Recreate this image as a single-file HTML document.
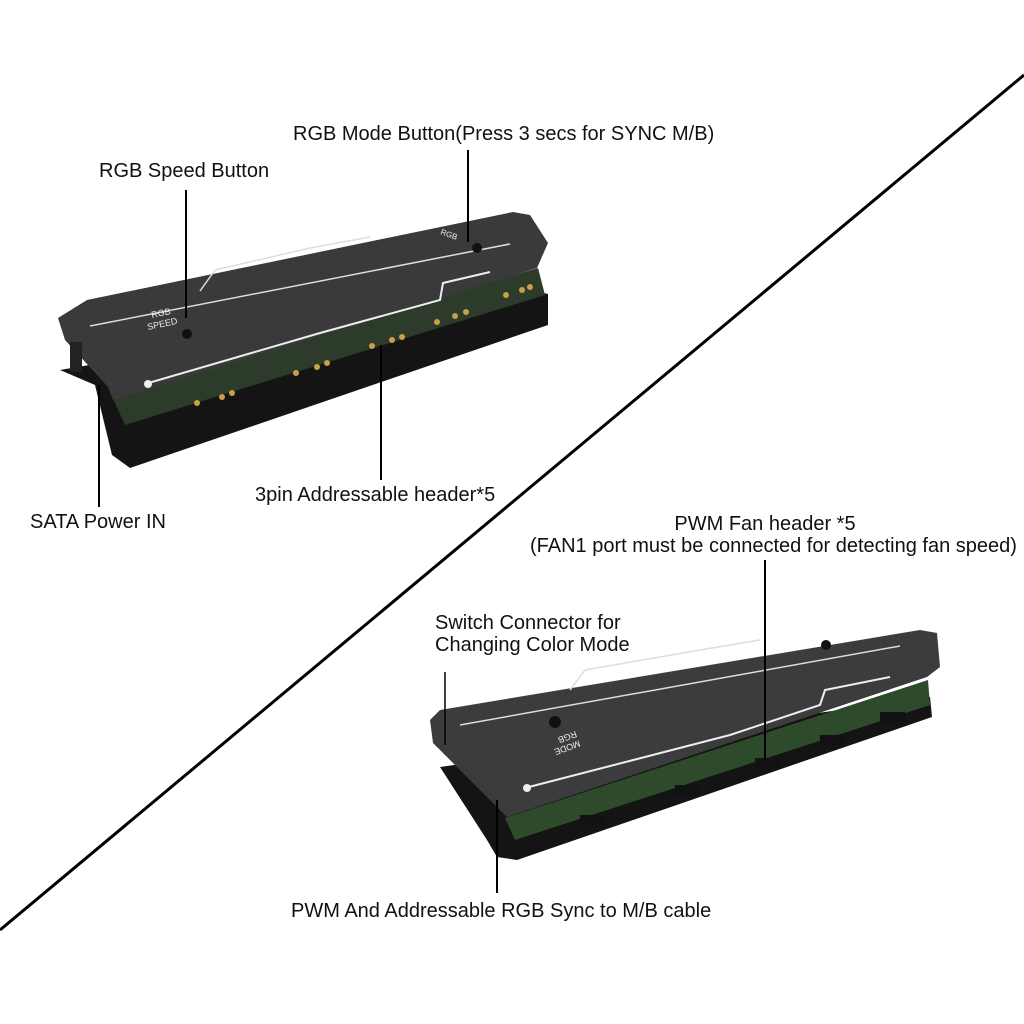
<!DOCTYPE html>
<html><head><style>
body{margin:0;background:#fff;}
svg{display:block}
text{font-family:"Liberation Sans",sans-serif;font-size:20px;fill:#111}
</style></head><body>
<svg width="1024" height="1024" viewBox="0 0 1024 1024">
<rect width="1024" height="1024" fill="#fff"/>
<line x1="1024" y1="75" x2="0" y2="930" stroke="#000" stroke-width="3"/>

<!-- top device -->
<polygon points="60,370 95,385 112,455 130,468 548,325 548,294 530,290" fill="#141414"/>
<polygon points="110,392 538,268 545,295 125,425" fill="#2d3b2a"/>
<g fill="#c9a04a">
<circle cx="197" cy="403" r="3"/><circle cx="222" cy="397" r="3"/><circle cx="232" cy="393" r="3"/>
<circle cx="296" cy="373" r="3"/><circle cx="317" cy="367" r="3"/><circle cx="327" cy="363" r="3"/>
<circle cx="372" cy="346" r="3"/><circle cx="392" cy="340" r="3"/><circle cx="402" cy="337" r="3"/>
<circle cx="437" cy="322" r="3"/><circle cx="455" cy="316" r="3"/><circle cx="466" cy="312" r="3"/>
<circle cx="506" cy="295" r="3"/><circle cx="522" cy="290" r="3"/><circle cx="530" cy="287" r="3"/>
</g>
<polygon points="58,318 87,300 513,212 530,215 548,243 537,268 113,400 108,387 65,340" fill="#3a3a3c"/>
<rect x="70" y="342" width="12" height="30" fill="#222"/>
<polyline points="90,326 510,244" stroke="#ddd" stroke-width="1.5" fill="none"/>
<polyline points="145,384 320,333 440,300 443,283 490,272" stroke="#eee" stroke-width="2" fill="none"/>
<polyline points="200,291 215,270 310,248 370,237" stroke="#ddd" stroke-width="1.5" fill="none"/>
<circle cx="148" cy="384" r="4" fill="#eee"/>
<circle cx="187" cy="334" r="5" fill="#111"/><circle cx="477" cy="248" r="5" fill="#111"/>
<text x="152" y="318" style="font-size:9px;fill:#eee" transform="rotate(-12 152 318)">RGB</text>
<text x="148" y="330" style="font-size:9px;fill:#eee" transform="rotate(-12 148 330)">SPEED</text>
<text x="440" y="234" style="font-size:8px;fill:#eee" transform="rotate(20 440 234)">RGB</text>

<!-- bottom device -->
<polygon points="440,767 930,697 932,717 517,860 497,857 487,840" fill="#141414"/>
<polygon points="505,818 928,680 930,705 515,840" fill="#2d4a2a"/>
<g fill="#111"><rect x="580" y="815" width="25" height="10"/><rect x="675" y="785" width="25" height="10"/><rect x="755" y="758" width="25" height="10"/><rect x="820" y="735" width="25" height="10"/><rect x="880" y="712" width="25" height="10"/></g>
<polygon points="430,720 440,710 920,630 937,633 940,667 927,677 507,817 433,743" fill="#3c3c3e"/>
<polyline points="460,725 900,646" stroke="#ddd" stroke-width="1.5" fill="none"/>
<polyline points="525,788 730,735 820,705 825,690 890,677" stroke="#eee" stroke-width="2" fill="none"/>
<polyline points="570,690 585,670 700,650 760,640" stroke="#ddd" stroke-width="1.5" fill="none"/>
<circle cx="527" cy="788" r="4" fill="#eee"/>
<circle cx="555" cy="722" r="6" fill="#111"/><circle cx="826" cy="645" r="5" fill="#111"/>
<text x="552" y="745" style="font-size:9px;fill:#eee" transform="rotate(160 565 740)">RGB</text>
<text x="552" y="735" style="font-size:9px;fill:#eee" transform="rotate(160 565 740)">MODE</text>

<!-- leader lines -->
<g stroke="#000" stroke-width="2">
<line x1="186" y1="190" x2="186" y2="318"/>
<line x1="468" y1="150" x2="468" y2="242"/>
<line x1="99" y1="385" x2="99" y2="507"/>
<line x1="381" y1="345" x2="381" y2="480"/>
<line x1="765" y1="560" x2="765" y2="760"/>
<line x1="445" y1="672" x2="445" y2="745" stroke-width="1.5"/>
<line x1="497" y1="800" x2="497" y2="893"/>
</g>

<text x="293" y="140">RGB Mode Button(Press 3 secs for SYNC M/B)</text>
<text x="99" y="177">RGB Speed Button</text>
<text x="30" y="528">SATA Power IN</text>
<text x="255" y="501">3pin Addressable header*5</text>
<text x="765" y="530" text-anchor="middle">PWM Fan header *5</text>
<text x="530" y="552">(FAN1 port must be connected for detecting fan speed)</text>
<text x="435" y="629">Switch Connector for</text>
<text x="435" y="651">Changing Color Mode</text>
<text x="291" y="917">PWM And Addressable RGB Sync to M/B cable</text>
</svg>
</body></html>
